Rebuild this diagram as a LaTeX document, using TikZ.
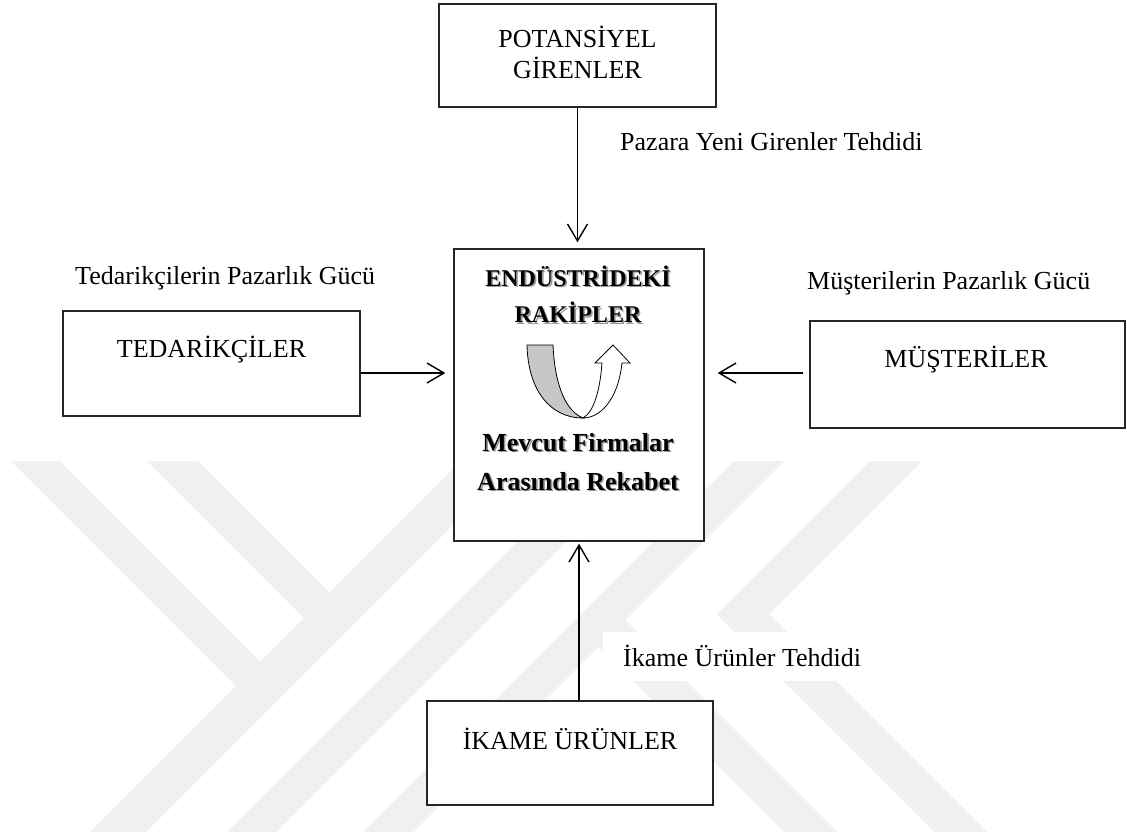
\documentclass[tikz,border=0pt]{standalone}
\usepackage{fontspec}
\setmainfont{Liberation Serif}
\usetikzlibrary{arrows.meta}
\newcommand{\golgeli}[1]{\leavevmode\rlap{\kern1.6pt\raisebox{-1.6pt}{\textcolor{black!40}{#1}}}#1}

\begin{document}
\begin{tikzpicture}[x=1pt, y=-1pt,
    >={Straight Barb[length=17pt,width=20pt]},
    kutu/.style={draw=black!85, line width=1.4pt, fill=white, inner sep=0pt},
    yazi/.style={font=\fontsize{26}{31}\selectfont, align=center, inner sep=0pt},
    kalin/.style={font=\fontsize{24}{29}\selectfont\bfseries, inner sep=0pt},
    ok/.style={->, line width=1.4pt},
    filigran/.style={fill=black!6, draw=none}]
  \fill[white] (0,0) rectangle (1127,837);
  \useasboundingbox (0,0) rectangle (1127,837);
  % filigran
  \begin{scope}
    \clip (0,461) rectangle (1127,832);
    \fill[filigran] (90,832) -- (146,832) -- (517,461) -- (461,461) -- cycle;
    \fill[filigran] (227,832) -- (276,832) -- (647,461) -- (598,461) -- cycle;
    \fill[filigran] (363,832) -- (413,832) -- (784,461) -- (734,461) -- cycle;
    \fill[filigran] (11,461) -- (60,461) -- (274.5,675.5) -- (250,700) -- cycle;
    \fill[filigran] (147,461) -- (198,461) -- (343.5,606.5) -- (318,632) -- cycle;
    \fill[filigran] (586,634) -- (612.5,607.5) -- (837,832) -- (784,832) -- cycle;
    \fill[filigran] (870,461) -- (922,461) -- (769,614) -- (987,832) -- (934,832) -- (716.5,614.5) -- cycle;
  \end{scope}
  % kutular
  \node[kutu, line width=2.6pt, minimum width=277pt, minimum height=103pt] (potansiyel) at (577.5,55.5) {};
  \node[yazi] (potansiyelt) at (577.5,52) {POTANSİYEL\\GİRENLER};
  \node[kutu, minimum width=250pt, minimum height=292pt] (rakip) at (579,395) {};
  \node[kutu, minimum width=297pt, minimum height=105pt] (tedarik) at (211.5,363.5) {};
  \node[yazi] (tedarikt) at (211.5,350) {TEDARİKÇİLER};
  \node[kutu, minimum width=315pt, minimum height=107pt] (musteri) at (967.5,374.5) {};
  \node[yazi] (musterit) at (966,360) {MÜŞTERİLER};
  \node[kutu, minimum width=286pt, minimum height=104pt] (ikame) at (570,753) {};
  \node[yazi] (ikamet) at (570,739) {İKAME ÜRÜNLER};
  % orta kutu yazilari
  \node[kalin] (endustri) at (578,277) {\golgeli{ENDÜSTRİDEKİ}};
  \node[kalin] (rakipler) at (578,313) {\golgeli{RAKİPLER}};
  \node[kalin, font=\fontsize{26}{31}\selectfont\bfseries] (mevcut) at (578,443) {\golgeli{Mevcut Firmalar}};
  \node[kalin, font=\fontsize{26}{31}\selectfont\bfseries] (arasinda) at (578,482) {\golgeli{Arasında Rekabet}};
  % donen ok
  \filldraw[fill=black!22, line width=0.8pt] (527,345) -- (553,345) .. controls (555,390) and (568,412) .. (583,418)
    .. controls (550,418) and (528,390) .. (527,345) -- cycle;
  \filldraw[fill=white, line width=0.8pt] (583,418) .. controls (594,412) and (600,390) .. (602,363) -- (595,363)
    -- (613,345) -- (630,363) -- (622,363) .. controls (618,400) and (600,418) .. (583,418) -- cycle;
  % etiketler
  \node[yazi, anchor=west] (pazara) at (620,142) {Pazara Yeni Girenler Tehdidi};
  \node[yazi, anchor=west] (tedarikg) at (75,278) {Tedarikçilerin Pazarlık Gücü};
  \node[yazi, anchor=west] (musterig) at (807,283) {Müşterilerin Pazarlık Gücü};
  \node[yazi, anchor=west, fill=white, inner xsep=20pt, minimum height=49pt] (ikameg) at (603,656) {İkame Ürünler Tehdidi};
  % oklar
  \coordinate (oky) at (0,373);
  \draw[ok, shorten >=6pt] (potansiyel.south) -- (potansiyel.south |- rakip.north);
  \draw[ok, shorten >=8pt] (tedarik.east |- oky) -- (rakip.west |- oky);
  \draw[ok, shorten <=6pt, shorten >=13pt] (musteri.west |- oky) -- (rakip.east |- oky);
  \draw[ok, shorten >=2pt] (ikame.north -| rakip.south) -- (rakip.south);
\end{tikzpicture}
\end{document}
